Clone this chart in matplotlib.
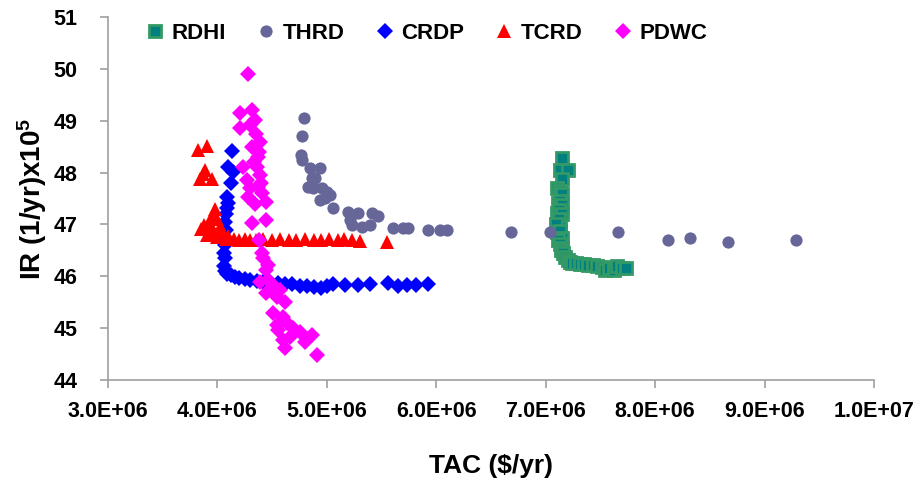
import matplotlib.pyplot as plt
import numpy as np
from matplotlib.ticker import FuncFormatter, MultipleLocator

plt.rcParams['font.family'] = ['Liberation Sans', 'DejaVu Sans']
plt.rcParams['font.weight'] = 'bold'
plt.rcParams['mathtext.fontset'] = 'custom'
plt.rcParams['mathtext.rm'] = 'Liberation Sans:bold'
plt.rcParams['mathtext.default'] = 'rm'

# TAC in millions of $/yr, IR in (1/yr)x10^5
rdhi_x = [7.15, 7.13, 7.20, 7.15, 7.10, 7.13, 7.15, 7.11, 7.13, 7.15, 7.10, 7.12, 7.15, 7.11, 7.12,
          7.13, 7.09, 7.10, 7.12, 7.13, 7.15, 7.11, 7.13, 7.15, 7.14, 7.16, 7.18, 7.20, 7.22, 7.24,
          7.28, 7.31, 7.35, 7.39, 7.43, 7.47, 7.51, 7.54, 7.58, 7.62, 7.65, 7.70, 7.73]
rdhi_y = [48.28, 48.05, 48.05, 47.88, 47.70, 47.65, 47.59, 47.41, 47.45, 47.37, 47.22, 47.28, 47.20, 47.05, 47.10,
          46.95, 47.00, 46.85, 46.80, 46.88, 46.74, 46.70, 46.62, 46.55, 46.51, 46.45, 46.38, 46.32, 46.28, 46.26,
          46.25, 46.24, 46.23, 46.22, 46.22, 46.20, 46.18, 46.12, 46.15, 46.13, 46.20, 46.16, 46.16]

thrd_x = [4.79, 4.77, 4.76, 4.77, 4.85, 4.94, 4.86, 4.89, 4.83, 4.87, 4.96, 5.00, 5.03, 4.94, 4.98, 5.06,
          5.19, 5.28, 5.21, 5.23, 5.32, 5.39, 5.41, 5.47, 5.60, 5.70, 5.74, 5.92, 6.03, 6.10,
          6.68, 7.04, 7.66, 8.12, 8.32, 8.67, 9.29]
thrd_y = [49.05, 48.71, 48.34, 48.24, 48.09, 48.09, 47.90, 47.90, 47.72, 47.70, 47.70, 47.63, 47.57, 47.47, 47.51, 47.32,
          47.24, 47.22, 47.09, 46.99, 46.95, 46.99, 47.22, 47.16, 46.93, 46.93, 46.93, 46.89, 46.89, 46.89,
          46.85, 46.85, 46.85, 46.70, 46.74, 46.66, 46.70]

crdp_x = [4.13, 4.10, 4.14, 4.12, 4.09, 4.10, 4.09,
          4.08, 4.07, 4.08, 4.06, 4.07, 4.06, 4.07, 4.06, 4.07, 4.09,
          4.12, 4.16, 4.20, 4.25, 4.30, 4.36, 4.42, 4.48, 4.55, 4.62, 4.68, 4.75, 4.82, 4.88, 4.95, 5.00,
          5.06, 5.17, 5.28, 5.39, 5.56, 5.65, 5.73, 5.81, 5.92]
crdp_y = [48.42, 48.11, 48.01, 47.80, 47.53, 47.41, 47.32,
          47.20, 47.05, 46.90, 46.75, 46.60, 46.45, 46.35, 46.20, 46.10, 46.05,
          46.02, 45.98, 45.96, 45.94, 45.92, 45.90, 45.89, 45.88, 45.87, 45.86, 45.85, 45.82, 45.82, 45.80, 45.78, 45.82,
          45.85, 45.83, 45.84, 45.85, 45.87, 45.82, 45.83, 45.83, 45.86]

tcrd_x = [3.82, 3.90, 3.89, 3.84, 3.95, 3.87,
          3.98, 3.95, 3.92, 3.88, 3.85, 4.00, 4.02, 3.93, 3.97, 4.05,
          4.10, 3.90, 4.00, 4.08, 4.15, 4.20, 4.25, 4.30, 4.35, 4.42,
          4.50, 4.57, 4.65, 4.72, 4.80, 4.88, 4.95, 5.02, 5.10, 5.16,
          5.23, 5.30, 5.55]
tcrd_y = [48.44, 48.52, 48.05, 47.88, 47.88, 47.98,
          47.30, 47.15, 47.05, 46.98, 46.92, 47.10, 46.95, 46.88, 46.85, 46.85,
          46.78, 46.80, 46.75, 46.72, 46.72, 46.70, 46.72, 46.70, 46.70, 46.72,
          46.70, 46.71, 46.69, 46.70, 46.71, 46.70, 46.69, 46.71, 46.70, 46.72,
          46.70, 46.68, 46.66]

pdwc_x = [4.28, 4.21, 4.32, 4.34, 4.21, 4.30, 4.35, 4.39, 4.32, 4.38, 4.37, 4.33, 4.23, 4.36, 4.39,
          4.27, 4.40, 4.37, 4.30, 4.41, 4.28, 4.44, 4.34, 4.32, 4.44,
          4.38, 4.42, 4.41, 4.46, 4.44, 4.39, 4.46, 4.53, 4.57, 4.44, 4.54, 4.62, 4.51, 4.60, 4.64,
          4.54, 4.55, 4.69, 4.75, 4.86, 4.66, 4.60, 4.80, 4.62, 4.91]
pdwc_y = [49.90, 49.15, 49.21, 49.01, 48.86, 48.92, 48.75, 48.59, 48.49, 48.40, 48.30, 48.20, 48.11, 48.11, 47.95,
          47.86, 47.80, 47.72, 47.70, 47.61, 47.53, 47.43, 47.40, 47.03, 47.09,
          46.70, 46.35, 46.45, 46.22, 46.12, 45.89, 45.93, 45.79, 45.74, 45.68, 45.60, 45.50, 45.29, 45.22, 45.10,
          45.06, 44.96, 45.00, 44.93, 44.87, 44.83, 44.77, 44.73, 44.62, 44.48]

fig = plt.figure(figsize=(9.24, 4.83), dpi=100)
ax = fig.add_axes([0.1169, 0.2133, 0.829, 0.7515])

ax.plot(np.array(rdhi_x) * 1e6, rdhi_y, 's', ms=8, mfc='#008080', mec='#339966', mew=2, label='RDHI')
ax.plot(np.array(thrd_x) * 1e6, thrd_y, 'o', ms=8.8, mfc='#666699', mec='#666699', mew=0, label='THRD')
ax.plot(np.array(crdp_x) * 1e6, crdp_y, 'D', ms=8.3, color='#0000FF', mew=0, label='CRDP')
ax.plot(np.array(tcrd_x) * 1e6, tcrd_y, '^', ms=10.5, color='#FF0000', mew=0, label='TCRD')
ax.plot(np.array(pdwc_x) * 1e6, pdwc_y, 'D', ms=8.3, color='#FF00FF', mew=0, label='PDWC')

ax.set_xlim(3e6, 1e7)
ax.set_ylim(44, 51)
ax.xaxis.set_major_locator(MultipleLocator(1e6))
ax.yaxis.set_major_locator(MultipleLocator(1))
ax.xaxis.set_major_formatter(FuncFormatter(lambda v, p: f"{v:.1E}"))

for s in ['top', 'right']:
    ax.spines[s].set_visible(False)
for s in ['left', 'bottom']:
    ax.spines[s].set_color('#a0a0a0')
    ax.spines[s].set_linewidth(1.2)
ax.tick_params(direction='out', length=6, width=1.2, color='#a0a0a0', labelsize=15.5)
ax.tick_params(axis='y', pad=16)
ax.tick_params(axis='x', pad=9)
for lbl in ax.get_xticklabels() + ax.get_yticklabels():
    lbl.set_fontweight('bold')

ax.set_xlabel('TAC ($/yr)', fontsize=19, fontweight='bold', labelpad=23)
ax.set_ylabel(r'IR (1/yr)x10$^5$', fontsize=20, fontweight='bold', labelpad=3)

ax.legend(loc='center', bbox_to_anchor=(0.416, 0.955), ncol=5, frameon=False,
          handlelength=0.8, handletextpad=0.35, columnspacing=1.4, markerscale=1.0,
          prop={'size': 16, 'weight': 'bold'})

fig.savefig('out.png', dpi=100)
